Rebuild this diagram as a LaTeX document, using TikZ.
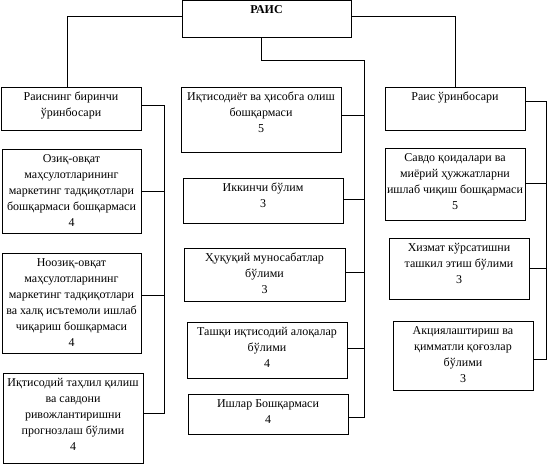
\documentclass[tikz,border=0pt]{standalone}
\usepackage{fontspec}
\setmainfont{Liberation Serif}
\usepackage{tikz}

\newcommand{\orgtext}[3]{\parbox[c][#2][t]{#1}{\centering\rule{0pt}{13pt}#3}}
\tikzset{
  orgbox/.style={draw, line width=0.8pt, anchor=north west, inner sep=0pt, outer sep=0pt},
  orgline/.style={line width=0.8pt}
}

\begin{document}
\begin{tikzpicture}[x=1pt, y=-1pt, font=\fontsize{12}{16}\selectfont]
\useasboundingbox (0,0) rectangle (548,464);
\node[orgbox] (rais) at (182,0) {\orgtext{169pt}{37pt}{\textbf{РАИС}}};
\node[orgbox] (rbir) at (1,87) {\orgtext{140pt}{43pt}{Раиснинг биринчи\\ўринбосари}};
\node[orgbox] (ozik) at (2,149) {\orgtext{139pt}{84pt}{Озиқ-овқат\\маҳсулотларининг\\маркетинг тадқиқотлари\\бошқармаси бошқармаси\\4}};
\node[orgbox] (noozik) at (2,253) {\orgtext{139pt}{100pt}{Ноозиқ-овқат\\маҳсулотларининг\\маркетинг тадқиқотлари\\ва халқ исътемоли ишлаб\\чиқариш бошқармаси\\4}};
\node[orgbox] (tahlil) at (3,373) {\orgtext{140pt}{90pt}{Иқтисодий таҳлил қилиш\\ва савдони\\ривожлантиришни\\прогнозлаш бўлими\\4}};
\node[orgbox] (iqtisod) at (181,87) {\orgtext{160pt}{65pt}{Иқтисодиёт ва ҳисобга олиш\\бошқармаси\\5}};
\node[orgbox] (ikkinchi) at (183,178) {\orgtext{160pt}{45pt}{Иккинчи бўлим\\3}};
\node[orgbox] (huquq) at (184,248) {\orgtext{161pt}{53pt}{Ҳуқуқий муносабатлар\\бўлими\\3}};
\node[orgbox] (tashqi) at (187,322) {\orgtext{160pt}{56pt}{Ташқи иқтисодий алоқалар\\бўлими\\4}};
\node[orgbox] (ishlar) at (188,394) {\orgtext{160pt}{40pt}{Ишлар Бошқармаси\\4}};
\node[orgbox] (rurin) at (385,87) {\orgtext{140pt}{43pt}{Раис ўринбосари}};
\node[orgbox] (savdo) at (385,148) {\orgtext{140pt}{72pt}{Савдо қоидалари ва\\миёрий ҳужжатларни\\ишлаб чиқиш бошқармаси\\5}};
\node[orgbox] (xizmat) at (389,238) {\orgtext{140pt}{61pt}{Хизмат кўрсатишни\\ташкил этиш бўлими\\3}};
\node[orgbox] (aksiya) at (393,321) {\orgtext{140pt}{69pt}{Акциялаштириш ва\\қимматли қоғозлар\\бўлими\\3}};

\coordinate (lbtop) at (164,105);
\coordinate (lbbot) at (164,413);
\coordinate (mbtop) at (364,60);
\coordinate (mbbot) at (364,417);
\coordinate (rbtop) at (546,101);
\coordinate (rbbot) at (546,359);

\draw[orgline] (rais.west |- 0,16) -| ([xshift=-3.5pt]rbir.north);
\draw[orgline] (rais.east |- 0,16) -| (rurin.north);
\draw[orgline] (rais.south -| 261,0) |- (mbtop) -- (mbbot) -- (ishlar.east |- mbbot);

\draw[orgline] (rbir.east |- lbtop) -- (lbtop) -- (lbbot) -- (tahlil.east |- lbbot);
\draw[orgline] (ozik.east |- 0,191) -- (lbtop |- 0,191);
\draw[orgline] (noozik.east |- 0,295) -- (lbtop |- 0,295);

\draw[orgline] (iqtisod.east |- 0,115) -- (mbtop |- 0,115);
\draw[orgline] (ikkinchi.east |- 0,199) -- (mbtop |- 0,199);
\draw[orgline] (huquq.east |- 0,272) -- (mbtop |- 0,272);
\draw[orgline] (tashqi.east |- 0,348) -- (mbtop |- 0,348);

\draw[orgline] (rurin.east |- rbtop) -- (rbtop) -- (rbbot) -- (aksiya.east |- rbbot);
\draw[orgline] (savdo.east |- 0,183) -- (rbtop |- 0,183);
\draw[orgline] (xizmat.east |- 0,268) -- (rbtop |- 0,268);
\end{tikzpicture}
\end{document}
